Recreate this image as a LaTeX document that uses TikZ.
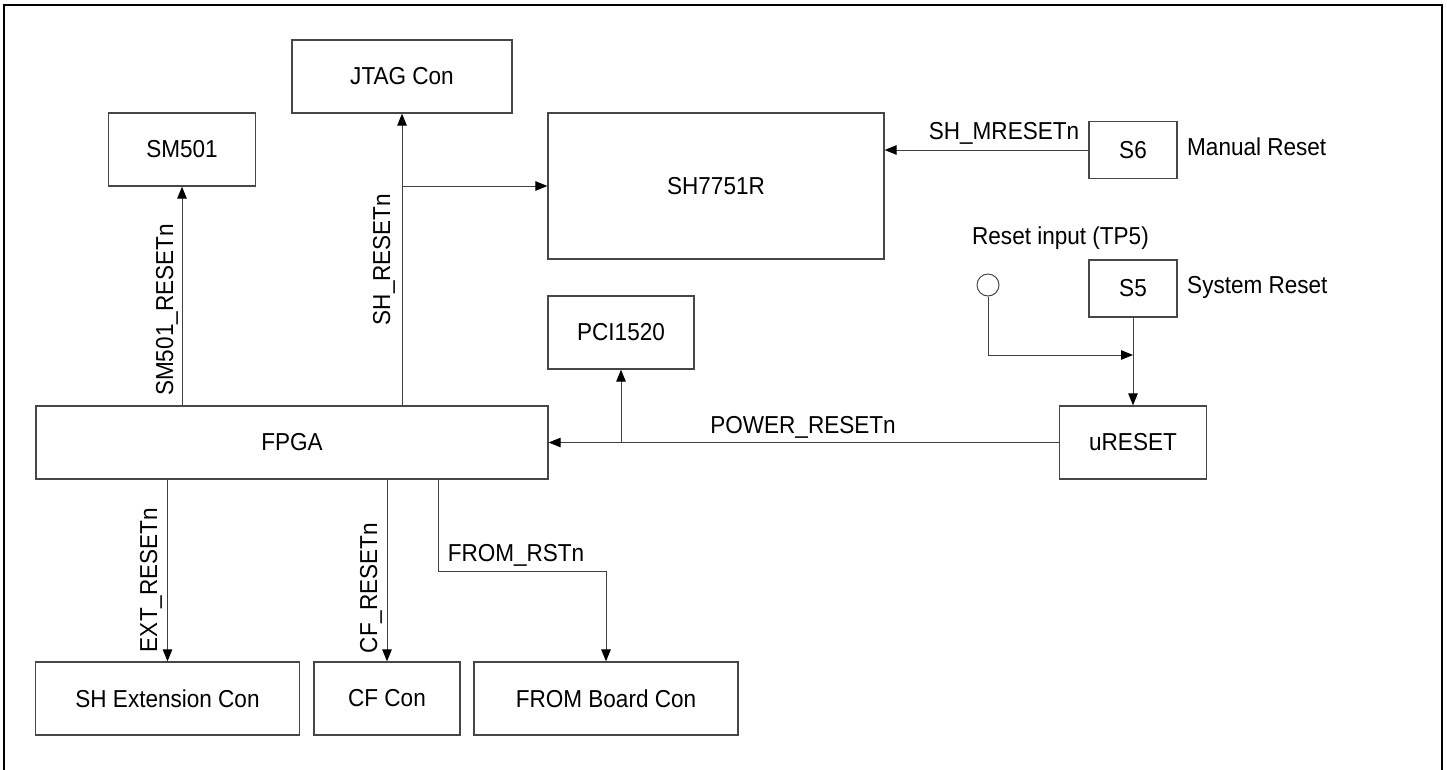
\documentclass[tikz,border=0pt]{standalone}
\usepackage{fontspec}
\setmainfont{Liberation Sans}[FakeStretch=0.92]
\usetikzlibrary{arrows.meta}
\begin{document}
\begin{tikzpicture}[x=1pt,y=-1pt,
  box/.style={draw=black!72,line width=1.3pt,inner sep=0pt,anchor=center},
  lbl/.style={inner sep=0pt,anchor=center},
  conn/.style={draw=black!75,line width=1pt},
  arr/.style={conn,-{Triangle[length=12pt,width=9.5pt,color=black]}},
  font=\fontsize{24.5}{29}\selectfont]
\useasboundingbox (0,0) rectangle (1447,769);
% frame
\draw[line width=2.5pt] (4,775) -- (4,5) -- (1442,5) -- (1442,775);
% boxes
\node[box,minimum width=220pt,minimum height=73pt] (jtag) at (402,76.5) {JTAG Con};
\node[box,minimum width=147pt,minimum height=73pt] (sm501) at (182,149.5) {SM501};
\node[box,minimum width=336pt,minimum height=146pt] (sh) at (716,186) {SH7751R};
\node[box,minimum width=88pt,minimum height=57pt] (s6) at (1133,150) {S6};
\node[box,minimum width=88pt,minimum height=57pt] (s5) at (1133,288.5) {S5};
\node[box,minimum width=147pt,minimum height=73pt] (ureset) at (1133,442.5) {uRESET};
\node[box,minimum width=146pt,minimum height=73pt] (pci) at (621,332.5) {PCI1520};
\node[box,minimum width=512pt,minimum height=73pt] (fpga) at (292,442.5) {FPGA};
\node[box,minimum width=264pt,minimum height=73pt] (shext) at (167.5,698.5) {SH Extension Con};
\node[box,minimum width=146pt,minimum height=73pt] (cf) at (387,698.5) {CF Con};
\node[box,minimum width=264pt,minimum height=73pt] (from) at (606,698.5) {FROM Board Con};
\node[draw=black!72,line width=1pt,circle,minimum size=22pt,inner sep=0pt] (tp) at (988,285) {};
% plain labels
\node[lbl,anchor=west] (manual) at (1187,147) {Manual Reset};
\node[lbl,anchor=west] (system) at (1187,287) {System Reset};
\node[lbl,anchor=east] (tplbl) at (1149,238) {Reset input (TP5)};
% connectors
\draw[arr] (fpga.north -| sm501) -- (sm501.south);
\draw[arr] (fpga.north -| jtag) -- (jtag.south);
\draw[arr] (jtag.south |- sh.west) -- (sh.west);
\draw[arr] (s6.west) -- (s6.west -| sh.east);
\draw[arr] (s5.south) -- (ureset.north);
\coordinate (tpjoin) at (1133,355);
\draw[arr] (tp.south) |- (tpjoin);
\draw[arr] (ureset.west) -- (fpga.east);
\draw[arr] (pci.south |- fpga.east) -- (pci.south);
\draw[arr] (shext.north |- fpga.south) -- (shext.north);
\draw[arr] (cf.north |- fpga.south) -- (cf.north);
\coordinate (fromstart) at (438,479);
\coordinate (frombend) at (606,571);
\draw[arr] (fromstart) -- (fromstart |- frombend) -- (frombend) -- (from.north);
% signal labels
\node[lbl] (l1) at (1004,133) {SH\_MRESETn};
\node[lbl] (l2) at (803,427) {POWER\_RESETn};
\node[lbl,rotate=90] (l3) at (167,310) {SM501\_RESETn};
\node[lbl,rotate=90] (l4) at (384,259.5) {SH\_RESETn};
\node[lbl,rotate=90] (l5) at (151,580) {EXT\_RESETn};
\node[lbl,rotate=90] (l6) at (371,588) {CF\_RESETn};
\node[lbl] (l7) at (516,555) {FROM\_RSTn};
\end{tikzpicture}
\end{document}
